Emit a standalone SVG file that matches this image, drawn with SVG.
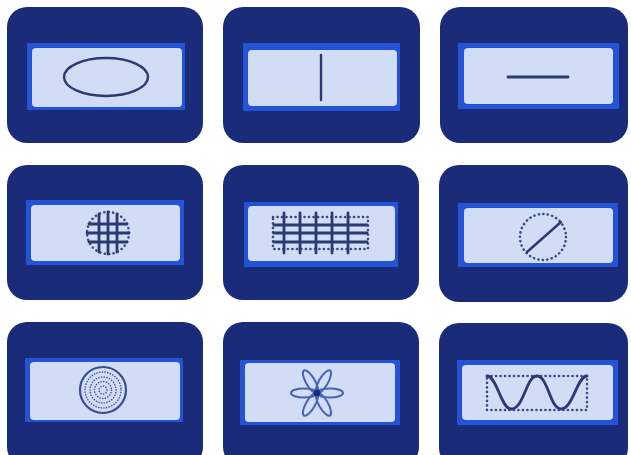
<svg xmlns="http://www.w3.org/2000/svg" width="631" height="455" viewBox="0 0 631 455">
<defs>
<style>
.tile{fill:#1a2b7a}
.band{fill:#2453d6}
.panel{fill:#d0ddf5}
.sym{fill:none;stroke:#2b3a72;stroke-width:2.4;stroke-linecap:round}
.bold{stroke-width:2.8}
.dot{fill:none;stroke:#3b4a80;stroke-width:2.6;stroke-dasharray:0.1 4.4;stroke-linecap:round}
.thin{fill:none;stroke:#4a5c98;stroke-width:1.6;stroke-dasharray:0.1 2.6;stroke-linecap:round}
.petal{fill:none;stroke:#4a63b0;stroke-width:2}
</style>
</defs>
<rect width="631" height="455" fill="#ffffff"/>

<g id="tile-ellipse">
<rect class="tile" x="7" y="7" width="196" height="136" rx="20"/>
<rect class="band" x="27" y="43" width="158" height="67"/>
<rect class="panel" x="32" y="48" width="150" height="59" rx="4"/>
<ellipse class="sym" cx="106" cy="77" rx="42" ry="19"/>
</g>

<g id="tile-vline">
<rect class="tile" x="223" y="7" width="197" height="136" rx="20"/>
<rect class="band" x="243" y="43" width="157" height="68"/>
<rect class="panel" x="248" y="50" width="149" height="56" rx="4"/>
<line class="sym" x1="321" y1="55" x2="321" y2="100"/>
</g>

<g id="tile-hline">
<rect class="tile" x="440" y="7" width="188" height="136" rx="20"/>
<rect class="band" x="458" y="43" width="161" height="66"/>
<rect class="panel" x="464" y="48" width="149" height="56" rx="4"/>
<line class="sym bold" x1="508" y1="77" x2="568" y2="77"/>
</g>

<g id="tile-globe">
<rect class="tile" x="7" y="165" width="196" height="135" rx="20"/>
<rect class="band" x="26" y="200" width="158" height="65"/>
<rect class="panel" x="31" y="205" width="149" height="56" rx="4"/>
<circle class="dot" cx="108" cy="233" r="21"/>
<line class="sym bold" x1="99" y1="214" x2="99" y2="252"/>
<line class="sym bold" x1="108" y1="212" x2="108" y2="254"/>
<line class="sym bold" x1="117" y1="214" x2="117" y2="252"/>
<line class="sym bold" x1="89" y1="224" x2="127" y2="224"/>
<line class="sym bold" x1="87" y1="233" x2="129" y2="233"/>
<line class="sym bold" x1="89" y1="242" x2="127" y2="242"/>
</g>

<g id="tile-grid">
<rect class="tile" x="223" y="165" width="196" height="135" rx="20"/>
<rect class="band" x="244" y="202" width="154" height="65"/>
<rect class="panel" x="248" y="206" width="147" height="55" rx="4"/>
<rect class="dot" x="273" y="217" width="95" height="32"/>
<line class="sym bold" x1="284" y1="213" x2="284" y2="253"/>
<line class="sym bold" x1="300" y1="213" x2="300" y2="253"/>
<line class="sym bold" x1="316" y1="213" x2="316" y2="253"/>
<line class="sym bold" x1="332" y1="213" x2="332" y2="253"/>
<line class="sym bold" x1="348" y1="213" x2="348" y2="253"/>
<line class="sym bold" x1="274" y1="225" x2="367" y2="225"/>
<line class="sym bold" x1="274" y1="233" x2="367" y2="233"/>
<line class="sym bold" x1="274" y1="242" x2="367" y2="242"/>
</g>

<g id="tile-slash">
<rect class="tile" x="439" y="165" width="189" height="137" rx="20"/>
<rect class="band" x="458" y="203" width="160" height="64"/>
<rect class="panel" x="464" y="208" width="149" height="55" rx="4"/>
<circle class="dot" cx="543" cy="237" r="23"/>
<line class="sym" x1="527" y1="252" x2="561" y2="222"/>
</g>

<g id="tile-rings">
<rect class="tile" x="7" y="322" width="196" height="145" rx="20"/>
<rect class="band" x="25" y="358" width="158" height="64"/>
<rect class="panel" x="30" y="362" width="150" height="58" rx="4"/>
<circle cx="103" cy="390" r="23" fill="none" stroke="#3a4d8e" stroke-width="2.2"/>
<circle class="thin" cx="103" cy="390" r="18"/>
<circle class="thin" cx="103" cy="390" r="13"/>
<circle class="thin" cx="103" cy="390" r="8.5"/>
<circle class="thin" cx="103" cy="390" r="4"/>
</g>

<g id="tile-flower">
<rect class="tile" x="223" y="322" width="196" height="145" rx="20"/>
<rect class="band" x="240" y="360" width="160" height="65"/>
<rect class="panel" x="245" y="363" width="150" height="59" rx="4"/>
<g transform="translate(317,393)">
<ellipse class="petal" cx="13" cy="0" rx="13" ry="4.5"/>
<ellipse class="petal" cx="13" cy="0" rx="13" ry="4.5" transform="rotate(60)"/>
<ellipse class="petal" cx="13" cy="0" rx="13" ry="4.5" transform="rotate(120)"/>
<ellipse class="petal" cx="13" cy="0" rx="13" ry="4.5" transform="rotate(180)"/>
<ellipse class="petal" cx="13" cy="0" rx="13" ry="4.5" transform="rotate(240)"/>
<ellipse class="petal" cx="13" cy="0" rx="13" ry="4.5" transform="rotate(300)"/>
<circle cx="0" cy="0" r="3.2" fill="#1a2b7a"/>
</g>
</g>

<g id="tile-wave">
<rect class="tile" x="439" y="323" width="189" height="145" rx="20"/>
<rect class="band" x="457" y="360" width="161" height="65"/>
<rect class="panel" x="462" y="365" width="151" height="55" rx="4"/>
<rect class="dot" x="487" y="376" width="100" height="34"/>
<path class="sym bold" d="M487,376 C497,376 501,409 511,409 C524,409 526,376 537,376 C548,376 550,409 561,409 C573,409 577,376 587,376"/>
</g>
</svg>
